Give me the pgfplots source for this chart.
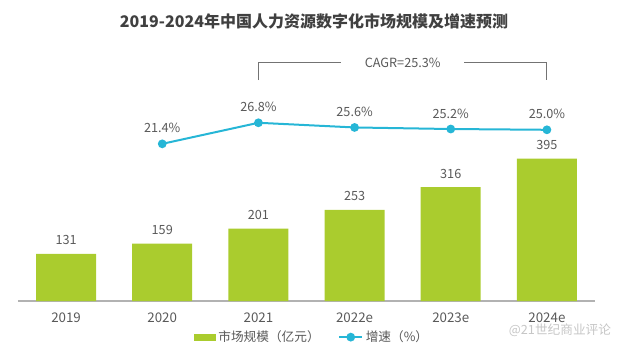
\documentclass[border=0pt]{standalone}
\usepackage{pgfplots}
\pgfplotsset{compat=1.18}
\usepackage{fontspec}
\setmainfont{Noto Sans CJK SC}
\definecolor{barg}{RGB}{170,204,46}
\definecolor{linec}{RGB}{38,182,214}
\definecolor{txt}{RGB}{89,89,89}
\definecolor{ttl}{RGB}{64,64,64}
\begin{document}
\begin{tikzpicture}[x=0.75pt,y=0.75pt]
\useasboundingbox (0,0) rectangle (640,358);
\node[font=\bfseries\fontsize{12}{13}\selectfont, text=ttl] at (314,337) {2019-2024年中国人力资源数字化市场规模及增速预测};
\node[font=\fontsize{9.5}{10}\selectfont, text=gray!45] at (560,28) {@21世纪商业评论};
\begin{axis}[
  at={(13.5pt,42.75pt)}, anchor=south west,
  width=432.75pt, height=180.75pt, scale only axis,
  xmin=-0.5, xmax=5.5, ymin=0, ymax=669, clip=false,
  axis x line=bottom, axis y line=none,
  x axis line style={draw=gray!60, line width=0.8pt, -},
  xtick={0,1,2,3,4,5},
  xticklabels={2019,2020,2021,2022e,2023e,2024e},
  xtick style={draw=none},
  xticklabel style={font=\fontsize{10}{11}\selectfont, text=txt, yshift=-3pt},
  /pgf/number format/assume math mode=true,
  legend columns=2,
  legend style={draw=none, at={(0.51,-0.15)}, anchor=center, font=\fontsize{9.5}{10}\selectfont, text=txt,
    /tikz/every even column/.append style={column sep=12pt}},
]
\addplot[ybar, bar width=45pt, fill=barg, draw=none,
  nodes near coords, every node near coord/.append style={font=\fontsize{9.5}{10}\selectfont, text=txt, yshift=3pt},
  legend image code/.code={\fill[barg] (0pt,-2.6pt) rectangle (16.5pt,2.6pt);}]
  coordinates {(0,131) (1,159) (2,201) (3,253) (4,316) (5,395)};
\addlegendentry{市场规模（亿元）}
\addlegendimage{linec, line width=1.5pt, mark=*, mark size=2.5pt}
\addlegendentry{增速（\%）}
\draw[gray!90!black, line width=0.8pt] (axis cs:2,{0.917*669}) -- (axis cs:2,{0.988*669}) -- (axis cs:2.86,{0.988*669});
\draw[gray!90!black, line width=0.8pt] (axis cs:4.14,{0.988*669}) -- (axis cs:5,{0.988*669}) -- (axis cs:5,{0.917*669});
\node[font=\fontsize{9.5}{10}\selectfont, text=txt] at (axis cs:3.5,{0.988*669}) {CAGR=25.3\%};
\end{axis}
\begin{axis}[
  at={(13.5pt,42.75pt)}, anchor=south west,
  width=432.75pt, height=180.75pt, scale only axis,
  xmin=-0.5, xmax=5.5, ymin=-18.9, ymax=42.9, clip=false,
  axis lines=none,
  /pgf/number format/assume math mode=true,
]
\addplot[linec, line width=1.5pt, mark=*, mark size=2.5pt,
  nodes near coords={\pgfmathprintnumber[fixed,precision=1,fixed zerofill]{\pgfplotspointmeta}\%},
  every node near coord/.append style={font=\fontsize{9.5}{10}\selectfont, text=txt, yshift=4pt}]
  coordinates {(1,21.4) (2,26.8) (3,25.6) (4,25.2) (5,25.0)};
\end{axis}
\end{tikzpicture}
\end{document}
